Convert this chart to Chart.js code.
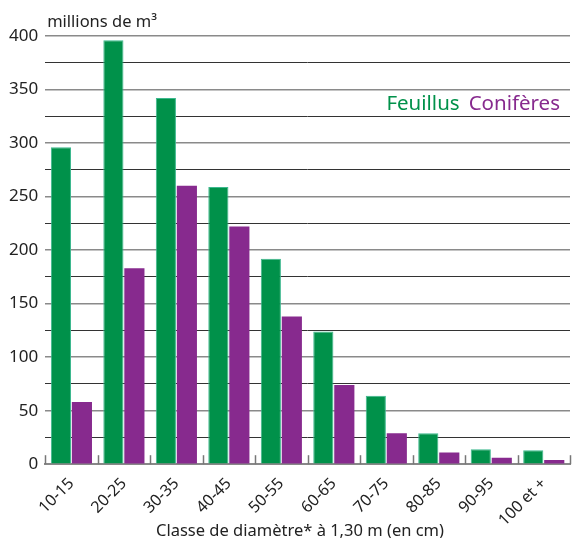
<!DOCTYPE html>
<html>
  <head>
    <script src="https://cdn.jsdelivr.net/npm/chart.js@4.4.1/dist/chart.umd.min.js"></script>
    <style>
      body {
        margin: 0;
        background-color: white;
      }
      #wrap {
        width: 572px;
        height: 538px;
      }
    </style>
  </head>
  <body>
    <div id="wrap"><canvas id="myBarChart"></canvas></div>
  <script>
    // Categories and volumes (millions de m3)
    let classes = ["10-15", "20-25", "30-35", "40-45", "50-55", "60-65", "70-75", "80-85", "90-95", "100 et +"];
    let feuillus = [296, 396, 342, 259, 192, 124, 64, 29, 14, 13];
    let coniferes = [58, 183, 260, 222, 138, 74, 29, 11, 6, 4];
    let seriesNames = ["Feuillus", "Conifères"];
    let xTitle = "Classe de diamètre* à 1,30 m (en cm)";

    let green = "#00914a";
    let purple = "#872a8e";
    let font = "'Noto Sans', 'Open Sans', sans-serif";

    // Unit label, legend text, axis title and small ticks on the axis
    let extras = {
      id: "extras",
      afterDatasetsDraw(chart) {
        let ctx = chart.ctx;
        let area = chart.chartArea;
        let x = chart.scales.x;
        ctx.save();
        // tick marks between categories
        ctx.strokeStyle = "#777";
        ctx.lineWidth = 1.5;
        let half = (x.getPixelForValue(1) - x.getPixelForValue(0)) / 2;
        for (let i = 0; i <= classes.length; i++) {
          let px = Math.round(x.getPixelForValue(i) - half) + 0.5;
          ctx.beginPath();
          ctx.moveTo(px, area.bottom);
          ctx.lineTo(px, area.bottom - 9);
          ctx.stroke();
        }
        // unit
        ctx.fillStyle = "#222";
        ctx.font = "16.5px " + font;
        ctx.textBaseline = "alphabetic";
        ctx.textAlign = "left";
        ctx.fillText("millions de m³", area.left + 2, 27);
        // axis title
        ctx.font = "16.5px " + font;
        ctx.textAlign = "center";
        ctx.fillText(xTitle, 300, 536);
        // legend
        ctx.font = "20.5px " + font;
        ctx.textAlign = "right";
        ctx.fillStyle = purple;
        ctx.fillText(seriesNames[1], 560, 110);
        let w = ctx.measureText(seriesNames[1]).width;
        ctx.fillStyle = green;
        ctx.fillText(seriesNames[0], 560 - w - 9, 110);
        ctx.restore();
      }
    };

    var ctx = document.getElementById("myBarChart").getContext("2d");
    var myBarChart = new Chart(ctx, {
      type: "bar",
      data: {
        labels: classes,
        datasets: [
          {
            label: seriesNames[0],
            data: feuillus,
            backgroundColor: green,
            borderColor: "#3cb88e",
            borderWidth: 1
          },
          {
            label: seriesNames[1],
            data: coniferes,
            backgroundColor: purple,
            borderWidth: 0
          }
        ]
      },
      options: {
        responsive: true,
        maintainAspectRatio: false,
        animation: false,
        layout: { padding: { top: 36, right: 2, left: 2, bottom: 6 } },
        datasets: { bar: { categoryPercentage: 0.8, barPercentage: 0.96 } },
        plugins: {
          legend: { display: false },
          tooltip: { enabled: false }
        },
        scales: {
          x: {
            grid: { display: false },
            border: { color: "#888", width: 2 },
            ticks: {
              color: "#222",
              font: { family: font, size: 16 },
              maxRotation: 45,
              minRotation: 45,
              padding: 2
            }
          },
          y: {
            min: 0,
            max: 400,
            border: { display: false },
            grid: {
              drawTicks: false,
              color: (c) => (c.tick && c.tick.value % 50 === 0 ? "#8a8a8a" : "#333"),
              lineWidth: (c) => (c.tick && c.tick.value % 50 === 0 ? 1.5 : 1)
            },
            ticks: {
              stepSize: 25,
              color: "#222",
              padding: 7,
              font: { family: font, size: 17 },
              callback: (v) => (v % 50 === 0 ? v : "")
            }
          }
        }
      },
      plugins: [extras]
    });
  </script>
  </body>
</html>
